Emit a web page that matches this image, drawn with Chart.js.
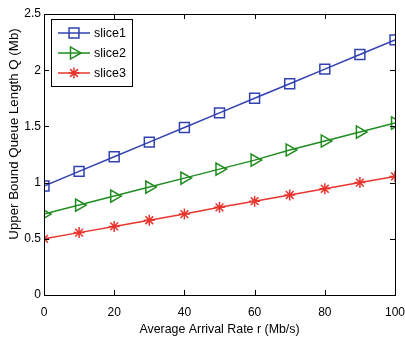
<!DOCTYPE html>
<html>
<head>
<meta charset="utf-8">
<script src="https://cdn.jsdelivr.net/npm/chart.js@4/dist/chart.umd.min.js"></script>
<style>
  html, body { margin: 0; padding: 0; background: #fff; }
  #wrap { width: 405px; height: 337px; }
</style>
</head>
<body>
<div id="wrap"><canvas id="queueChart" width="405" height="337"></canvas></div>
<script>
// values
const arrivalRates = [0, 10, 20, 30, 40, 50, 60, 70, 80, 90, 100];
const slice1 = [0.97, 1.10, 1.23, 1.36, 1.49, 1.62, 1.75, 1.88, 2.01, 2.14, 2.27];
const slice2 = [0.72, 0.80, 0.88, 0.96, 1.04, 1.12, 1.20, 1.29, 1.37, 1.45, 1.53];
const slice3 = [0.50, 0.555, 0.61, 0.665, 0.72, 0.78, 0.835, 0.89, 0.945, 1.00, 1.055];
const xTicks = [0, 20, 40, 60, 80, 100];
const yTicks = [0, 0.5, 1, 1.5, 2, 2.5];
const xTitle = 'Average Arrival Rate r (Mb/s)';
const yTitle = 'Upper Bound Queue Length Q (Mb)';

const FONT = '"Liberation Sans", Arial, sans-serif';

const toPoints = (ys) => ys.map((y, i) => ({ x: arrivalRates[i], y: y }));

// MATLAB-style frame with inward ticks on all four sides, plus the y title
const frameTicks = {
  id: 'frameTicks',
  afterDraw(chart) {
    const { ctx, chartArea: a, scales } = chart;
    const len = 5;
    ctx.save();
    ctx.strokeStyle = '#000';
    ctx.lineWidth = 1;
    ctx.strokeRect(a.left + 0.5, a.top + 0.5, a.right - a.left, a.bottom - a.top);
    ctx.beginPath();
    xTicks.forEach(v => {
      const px = Math.round(scales.x.getPixelForValue(v)) + 0.5;
      ctx.moveTo(px, a.bottom); ctx.lineTo(px, a.bottom - len);
      ctx.moveTo(px, a.top); ctx.lineTo(px, a.top + len);
    });
    yTicks.forEach(v => {
      const py = Math.round(scales.y.getPixelForValue(v)) + 0.5;
      ctx.moveTo(a.left, py); ctx.lineTo(a.left + len, py);
      ctx.moveTo(a.right, py); ctx.lineTo(a.right - len, py);
    });
    ctx.stroke();

    // y title sits a bit above the centre of the axis in the original
    ctx.translate(14, 134);
    ctx.rotate(-Math.PI / 2);
    ctx.fillStyle = '#000';
    ctx.font = '13.3px ' + FONT;
    ctx.textAlign = 'center';
    ctx.textBaseline = 'middle';
    ctx.fillText(yTitle, 0, 0);
    ctx.restore();
  }
};

// legend box in the upper-left corner of the plot
const boxLegend = {
  id: 'boxLegend',
  afterDraw(chart) {
    const { ctx, chartArea: a } = chart;
    const x0 = a.left + 7, y0 = a.top + 5, w = 81, h = 67;
    ctx.save();
    ctx.fillStyle = '#fff';
    ctx.fillRect(x0, y0, w, h);
    ctx.strokeStyle = '#000';
    ctx.lineWidth = 1;
    ctx.strokeRect(x0 + 0.5, y0 + 0.5, w, h);
    chart.data.datasets.forEach((ds, i) => {
      const y = y0 + 14 + i * 20;
      ctx.strokeStyle = ds.borderColor;
      ctx.lineWidth = 1.5;
      ctx.beginPath();
      ctx.moveTo(x0 + 7, y); ctx.lineTo(x0 + 39, y);
      ctx.stroke();
      ctx.fillStyle = 'rgba(0,0,0,0)';
      Chart.helpers.drawPoint(ctx, {
        pointStyle: ds.pointStyle,
        rotation: ds.pointRotation || 0,
        radius: ds.pointRadius,
        borderWidth: ds.pointBorderWidth
      }, x0 + 23, y);
      ctx.fillStyle = '#000';
      ctx.font = '12.5px ' + FONT;
      ctx.textBaseline = 'middle';
      ctx.fillText(ds.label, x0 + 43, y + 1);
    });
    ctx.restore();
  }
};

function series(label, ys, color, style, radius, rotation) {
  return {
    label: label,
    data: toPoints(ys),
    borderColor: color,
    backgroundColor: 'rgba(0,0,0,0)',
    borderWidth: 1.5,
    pointStyle: style,
    pointRadius: radius,
    pointRotation: rotation || 0,
    pointBorderColor: color,
    pointBackgroundColor: 'rgba(0,0,0,0)',
    pointBorderWidth: 1.5,
    tension: 0
  };
}

new Chart(document.getElementById('queueChart'), {
  type: 'line',
  data: {
    datasets: [
      series('slice1', slice1, '#3142b0', 'rect', 7),
      series('slice2', slice2, '#1f8c1f', 'triangle', 7, 90),
      series('slice3', slice3, '#e8352d', 'star', 5.5)
    ]
  },
  options: {
    responsive: false,
    animation: false,
    layout: { padding: { top: 14, right: 10, left: 0, bottom: 0 } },
    plugins: {
      legend: { display: false },
      tooltip: { enabled: false }
    },
    scales: {
      x: {
        type: 'linear',
        min: 0, max: 100,
        afterFit(s) { s.height = 42; s.paddingLeft = 0; s.paddingRight = 0; },
        afterBuildTicks(s) { s.ticks = xTicks.map(v => ({ value: v })); },
        grid: { display: false, drawTicks: false },
        border: { display: false },
        ticks: { color: '#000', font: { family: FONT, size: 12 }, padding: 10, maxRotation: 0 },
        title: { display: true, text: xTitle, color: '#000', font: { family: FONT, size: 12.4 }, padding: { top: 2, bottom: 0 } }
      },
      y: {
        min: 0, max: 2.5,
        afterFit(s) { s.width = 44; s.paddingTop = 0; s.paddingBottom = 0; },
        afterBuildTicks(s) { s.ticks = yTicks.map(v => ({ value: v })); },
        grid: { display: false, drawTicks: false },
        border: { display: false },
        ticks: { color: '#000', font: { family: FONT, size: 12 }, padding: 3, callback: v => String(v) }
      }
    }
  },
  plugins: [frameTicks, boxLegend]
});
</script>
</body>
</html>
